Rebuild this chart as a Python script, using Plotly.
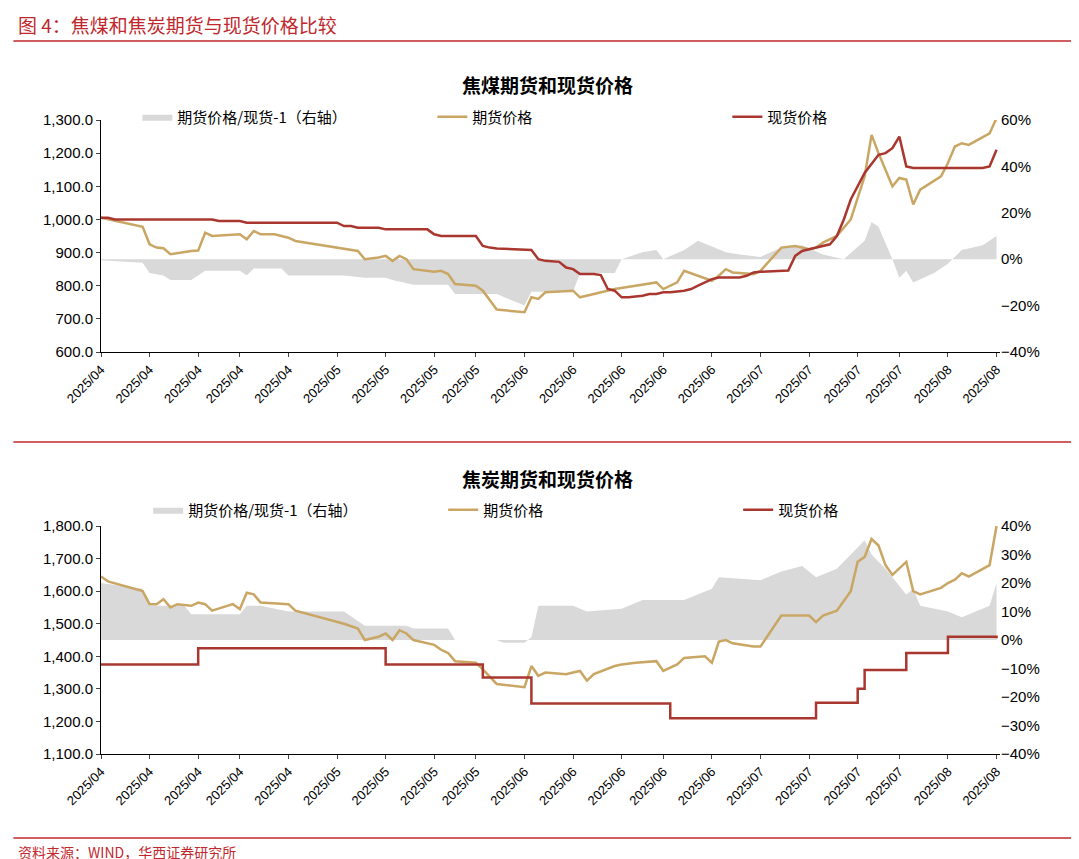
import pandas as pd
import plotly.graph_objects as go

start = pd.Timestamp("2025-04-01")
def D(days): return [start + pd.Timedelta(days=d) for d in days]

# 焦煤
coal_fut_days = [0,6,7,8,9,10,13,14,15,16,20,21,22,23,25,27,28,35,37,38,40,41,42,43,44,45,48,49,50,51,54,55,57,61,62,63,64,68,69,71,74,77,80,81,83,84,88,89,90,91,94,95,98,100,102,103,104,106,108,110,111,112,114,115,116,117,118,121,122,123,124,125,128,129]
coal_fut = [1005,978,925,915,913,895,905,906,960,950,955,940,965,955,955,945,935,912,905,880,885,890,875,890,880,850,842,845,835,805,800,785,728,720,765,760,780,785,765,775,790,800,810,790,810,845,815,830,850,840,835,845,915,920,910,915,930,950,1000,1130,1255,1200,1100,1125,1120,1045,1090,1130,1170,1220,1230,1225,1260,1305]
coal_spot_days = [0,1,2,16,17,20,21,34,35,36,37,40,41,47,48,49,54,55,56,57,62,63,64,66,67,68,69,71,72,73,74,75,76,78,79,80,81,82,84,85,86,88,89,92,93,94,95,96,98,99,100,101,102,104,105,106,107,108,109,110,112,113,114,115,116,117,124,127,128,129]
coal_spot = [1005,1005,1000,1000,995,995,990,990,980,980,975,975,970,970,955,950,950,920,915,912,908,880,875,872,855,850,835,835,832,790,785,765,765,770,775,775,780,780,785,790,800,820,825,825,830,840,842,843,845,846,890,905,910,920,925,950,1000,1060,1100,1140,1195,1200,1215,1250,1160,1155,1155,1155,1160,1210]
coal_basis_days = [0,6,7,9,10,13,15,20,21,22,26,27,35,38,41,42,45,50,51,57,61,62,68,69,74,75,78,80,81,84,86,90,92,95,98,101,104,107,110,111,112,114,115,116,117,120,122,124,127,129]
coal_basis = [-0.5,-1.5,-6,-7,-9,-9,-5,-5,-7,-4,-4,-7,-7,-8,-8,-9,-11,-11,-15,-15,-20,-14,-14,-6,-6,0,3,4,0,4,8,3,2,1,5,6,2,0,8,16,14,0,-8,-5,-10,-6,-2,4,6,10]

# 焦炭
coke_fut_days = [0,1,6,7,8,9,10,11,13,14,15,16,19,20,21,22,23,27,28,34,35,37,38,40,41,42,43,44,45,48,49,50,51,54,55,57,61,62,63,64,67,68,69,70,71,74,75,77,80,81,83,84,87,88,89,90,91,94,95,98,100,102,103,104,106,108,109,110,111,112,113,114,115,116,117,118,121,122,123,124,125,128,129]
coke_fut = [1645,1630,1600,1560,1560,1575,1550,1560,1555,1565,1560,1540,1560,1545,1595,1590,1565,1560,1540,1505,1500,1485,1450,1460,1470,1450,1480,1470,1450,1435,1420,1410,1385,1380,1360,1315,1305,1370,1340,1350,1345,1350,1355,1325,1345,1370,1375,1380,1385,1355,1375,1395,1400,1380,1445,1450,1440,1430,1430,1525,1525,1525,1505,1525,1540,1600,1690,1705,1760,1740,1680,1650,1670,1690,1600,1590,1610,1625,1635,1655,1645,1680,1800]
coke_spot_days = [0,13,14,40,41,54,55,61,62,81,82,102,103,108,109,110,115,116,121,122,128,129]
coke_spot = [1375,1375,1425,1425,1375,1375,1335,1335,1255,1255,1210,1210,1257,1257,1300,1358,1358,1410,1410,1460,1460,1455]
coke_basis_days = [0,6,7,12,13,20,21,23,27,35,38,44,45,50,51,57,58,61,62,63,68,70,75,78,84,88,89,95,98,101,103,106,108,110,111,113,116,117,118,122,124,127,128,129]
coke_basis = [20,18,12,12,9,9,12,12,10,10,5,5,4,4,0,0,-1,-1,1,12,12,10,11,14,14,18,22,21,24,26,22,25,30,35,30,25,16,18,12,10,8,11,12,20]

GOLD = "#C9A664"; RED = "#A9372F"; GREY = "#D9D9D9"
FONT = "Noto Sans CJK SC"
NUMFONT = "Liberation Sans"
tick_days = [round(i*129/19) for i in range(20)]
tick_dates = D(tick_days)
tick_text = [d.strftime("%Y/%m") for d in tick_dates]

fig = go.Figure()
def add(days, vals, name, color, ya, xa, legend, area=False, shape="linear", pct=False):
    ys = [v/100 for v in vals] if pct else vals
    if area:
        fig.add_trace(go.Scatter(x=D(days), y=ys, name=name, mode="lines", line=dict(width=0, color=GREY),
                                 fill="tozeroy", fillcolor=GREY, xaxis=xa, yaxis=ya, legend=legend))
    else:
        fig.add_trace(go.Scatter(x=D(days), y=ys, name=name, mode="lines", line=dict(width=2.5, color=color, shape=shape),
                                 xaxis=xa, yaxis=ya, legend=legend))

add(coal_basis_days, coal_basis, "期货价格/现货-1（右轴）", GREY, "y", "x", "legend", area=True, pct=True)
add(coal_fut_days, coal_fut, "期货价格", GOLD, "y2", "x", "legend")
add(coal_spot_days, coal_spot, "现货价格", RED, "y2", "x", "legend")
add(coke_basis_days, coke_basis, "期货价格/现货-1（右轴）", GREY, "y3", "x2", "legend2", area=True, pct=True)
add(coke_fut_days, coke_fut, "期货价格", GOLD, "y4", "x2", "legend2")
add(coke_spot_days, coke_spot, "现货价格", RED, "y4", "x2", "legend2", shape="hv")

xd = [93/1079, 992/1079]
d1 = [1-344/859, 1-112/859]; d2 = [1-746/859, 1-518/859]
xcommon = dict(domain=xd, range=[start, start+pd.Timedelta(days=129.5)], tickvals=tick_dates, ticktext=tick_text,
               tickangle=-45, showline=True, linecolor="black", ticks="outside", ticklen=4, showgrid=False,
               tickfont=dict(size=13, color="black", family=NUMFONT), zeroline=False, automargin=False)
pct_ax = dict(side="right", tickformat=".0%", showgrid=False, zeroline=False, ticks="", automargin=False,
              tickfont=dict(size=15, color="black", family=NUMFONT))
price_ax = dict(side="left", tickformat=",.1f", showgrid=False, zeroline=False, showline=True, linecolor="black",
                ticks="outside", ticklen=4, automargin=False, tickfont=dict(size=15, color="black", family=NUMFONT))
fig.update_layout(
    width=1079, height=859, margin=dict(l=0, r=0, t=0, b=0, autoexpand=False), paper_bgcolor="white", plot_bgcolor="white",
    font=dict(family=FONT, color="black"), showlegend=True,
    xaxis=dict(**xcommon, anchor="y2"),
    xaxis2=dict(**xcommon, anchor="y4"),
    yaxis=dict(**pct_ax, domain=d1, anchor="x", range=[-0.4, 0.6], dtick=0.2),
    yaxis2=dict(**price_ax, domain=d1, anchor="x", overlaying="y", range=[600, 1300], dtick=100),
    yaxis3=dict(**pct_ax, domain=d2, anchor="x2", range=[-0.4, 0.4], dtick=0.1),
    yaxis4=dict(**price_ax, domain=d2, anchor="x2", overlaying="y3", range=[1100, 1800], dtick=100),
    legend=dict(orientation="h", x=0.53, xanchor="center", y=1-109/859, yanchor="middle", entrywidth=250,
                font=dict(size=15), bgcolor="rgba(0,0,0,0)"),
    legend2=dict(orientation="h", x=0.54, xanchor="center", y=1-502/859, yanchor="middle", entrywidth=250,
                 font=dict(size=15), bgcolor="rgba(0,0,0,0)"),
    annotations=[
        dict(text="图 4：焦煤和焦炭期货与现货价格比较", x=8/1079, y=1-17/859, xref="paper", yref="paper", xanchor="left",
             yanchor="middle", showarrow=False, font=dict(size=19, color="#C0282D")),
        dict(text="<b>焦煤期货和现货价格</b>", x=0.5, y=1-77/859, xref="paper", yref="paper", showarrow=False,
             yanchor="middle", font=dict(size=19)),
        dict(text="<b>焦炭期货和现货价格</b>", x=0.5, y=1-470/859, xref="paper", yref="paper", showarrow=False,
             yanchor="middle", font=dict(size=19)),
        dict(text="资料来源：WIND，华西证券研究所", x=8/1079, y=1-844/859, xref="paper", yref="paper", xanchor="left",
             yanchor="middle", showarrow=False, font=dict(size=14, color="#C0282D")),
    ],
    shapes=[dict(type="line", xref="paper", yref="paper", x0=0.005, x1=0.995, y0=y, y1=y, line=dict(color="#C0282D", width=1.5))
            for y in [1-33/859, 1-434/859, 1-830/859]],
)
fig.write_html("out.html")
